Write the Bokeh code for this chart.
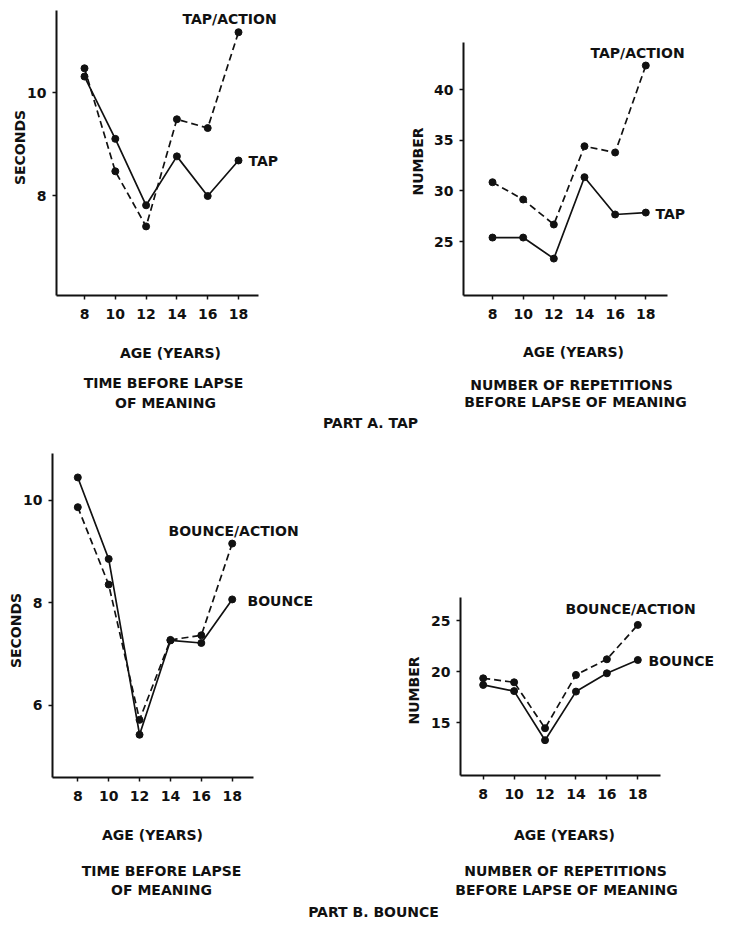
import math
from bokeh.plotting import figure
from bokeh.models import Label, FixedTicker, Range1d
from bokeh.layouts import column, row
from bokeh.embed import file_html
from bokeh.resources import INLINE

# ---- data ----
ages = [8, 10, 12, 14, 16, 18]
tap_time = [10.31, 9.10, 7.81, 8.76, 7.99, 8.68]
tap_action_time = [10.47, 8.47, 7.40, 9.48, 9.31, 11.17]
tap_reps = [25.39, 25.39, 23.31, 31.36, 27.67, 27.86]
tap_action_reps = [30.86, 29.15, 26.68, 34.42, 33.80, 42.40]
bounce_time = [10.44, 8.85, 5.42, 7.26, 7.21, 8.06]
bounce_action_time = [9.86, 8.35, 5.71, 7.27, 7.36, 9.15]
bounce_reps = [18.70, 18.10, 13.30, 18.05, 19.84, 21.14]
bounce_action_reps = [19.35, 18.96, 14.47, 19.68, 21.21, 24.57]

time_ticks_a = [8, 10]
reps_ticks_a = [25, 30, 35, 40]
time_ticks_b = [6, 8, 10]
reps_ticks_b = [15, 20, 25]

FONT = "DejaVu Sans"
INK = "#111111"


def lin(va, pa, vb, pb):
    """pixel -> value map from two calibration points"""
    k = (vb - va) / (pb - pa)
    return lambda px: va + (px - pa) * k


class Panel:
    def __init__(self, cx0, cy0, w, h, xcal, ycal, corner, right, top, yticks):
        self.cx0, self.cy0, self.w, self.h = cx0, cy0, w, h
        fx = lin(*xcal)
        fy = lin(*ycal)
        p = figure(width=w, height=h,
                   x_range=Range1d(fx(cx0), fx(cx0 + w)),
                   y_range=Range1d(fy(cy0 + h), fy(cy0)),
                   output_backend="svg", toolbar_location=None,
                   min_border_left=0, min_border_right=0,
                   min_border_top=0, min_border_bottom=0)
        p.title = None
        p.outline_line_color = None
        p.grid.visible = False
        p.background_fill_color = "white"
        p.border_fill_color = "white"
        ax_x0, ax_y0 = corner
        p.xaxis.fixed_location = fy(ax_y0)
        p.xaxis.bounds = (fx(ax_x0), fx(right))
        p.yaxis.fixed_location = fx(ax_x0)
        p.yaxis.bounds = (fy(ax_y0), fy(top))
        p.xaxis.ticker = FixedTicker(ticks=ages)
        p.yaxis.ticker = FixedTicker(ticks=yticks)
        for ax in p.axis:
            ax.axis_line_width = 2
            ax.axis_line_color = INK
            ax.major_tick_line_width = 1.5
            ax.major_tick_line_color = INK
            ax.major_tick_out = 4
            ax.major_tick_in = 0
            ax.minor_tick_line_color = None
            ax.major_label_text_font = FONT
            ax.major_label_text_font_size = "14px"
            ax.major_label_text_font_style = "bold"
            ax.major_label_text_color = INK
        p.xaxis.major_label_standoff = 9
        p.yaxis.major_label_standoff = 6
        self.p = p

    def series(self, ys, dashed):
        self.p.line(ages, ys, line_color=INK, line_width=1.7,
                    line_dash="7 4" if dashed else "solid")
        self.p.scatter(ages, ys, size=7, fill_color=INK, line_color=INK)

    def lab(self, X, Y, text, align="center", angle=0.0):
        self.p.add_layout(Label(x=X - self.cx0, y=(self.cy0 + self.h) - Y,
                                x_units="screen", y_units="screen",
                                text=text, text_align=align, text_baseline="middle",
                                angle=angle, text_font=FONT, text_font_size="14px",
                                text_font_style="bold", text_color=INK))


def banner(y0, h, X, Y, text):
    p = figure(width=738, height=h, x_range=Range1d(0, 1), y_range=Range1d(0, 1),
               output_backend="svg", toolbar_location=None,
               x_axis_type=None, y_axis_type=None,
               min_border_left=0, min_border_right=0,
               min_border_top=0, min_border_bottom=0)
    p.title = None
    p.outline_line_color = None
    p.grid.visible = False
    p.add_layout(Label(x=X, y=(y0 + h) - Y, x_units="screen", y_units="screen",
                       text=text, text_align="center", text_baseline="middle",
                       text_font=FONT, text_font_size="14px",
                       text_font_style="bold", text_color=INK))
    return p


# ---- Part A ----
a1 = Panel(0, 0, 369, 410, (8, 84, 18, 238), (10, 92, 8, 195),
           (56, 295), 258, 10, time_ticks_a)
a1.series(tap_time, False)
a1.series(tap_action_time, True)
a1.lab(182, 18, "TAP/ACTION", "left")
a1.lab(248, 160, "TAP", "left")
a1.lab(19, 147, "SECONDS", angle=math.pi / 2)
a1.lab(170, 352, "AGE (YEARS)")
a1.lab(163, 382, "TIME BEFORE LAPSE")
a1.lab(165, 402, "OF MEANING")

a2 = Panel(369, 0, 369, 410, (8, 492, 18, 645.3), (40, 89.3, 25, 241),
           (463, 295), 667, 42, reps_ticks_a)
a2.series(tap_reps, False)
a2.series(tap_action_reps, True)
a2.lab(590, 52, "TAP/ACTION", "left")
a2.lab(655, 213, "TAP", "left")
a2.lab(417, 161, "NUMBER", angle=math.pi / 2)
a2.lab(573, 351, "AGE (YEARS)")
a2.lab(571, 384, "NUMBER OF REPETITIONS")
a2.lab(575, 401, "BEFORE LAPSE OF MEANING")

partA = banner(410, 22, 370, 422, "PART A. TAP")

# ---- Part B ----
b1 = Panel(0, 432, 369, 468, (8, 77.3, 18, 231.7), (10, 499.5, 6, 704.5),
           (52, 777), 253, 453, time_ticks_b)
b1.series(bounce_time, False)
b1.series(bounce_action_time, True)
b1.lab(168, 530, "BOUNCE/ACTION", "left")
b1.lab(247, 600, "BOUNCE", "left")
b1.lab(15, 630, "SECONDS", angle=math.pi / 2)
b1.lab(152, 834, "AGE (YEARS)")
b1.lab(161, 870, "TIME BEFORE LAPSE")
b1.lab(161, 889, "OF MEANING")

b2 = Panel(369, 432, 369, 468, (8, 482.7, 18, 637.3), (25, 620, 15, 722.3),
           (460, 775), 660, 597, reps_ticks_b)
b2.series(bounce_reps, False)
b2.series(bounce_action_reps, True)
b2.lab(565, 608, "BOUNCE/ACTION", "left")
b2.lab(648, 660, "BOUNCE", "left")
b2.lab(413, 690, "NUMBER", angle=math.pi / 2)
b2.lab(564, 834, "AGE (YEARS)")
b2.lab(565, 870, "NUMBER OF REPETITIONS")
b2.lab(566, 889, "BEFORE LAPSE OF MEANING")

partB = banner(900, 25, 373, 911, "PART B. BOUNCE")

layout = column(row(a1.p, a2.p), partA, row(b1.p, b2.p), partB)
open("out.html", "w").write(file_html(layout, INLINE))
